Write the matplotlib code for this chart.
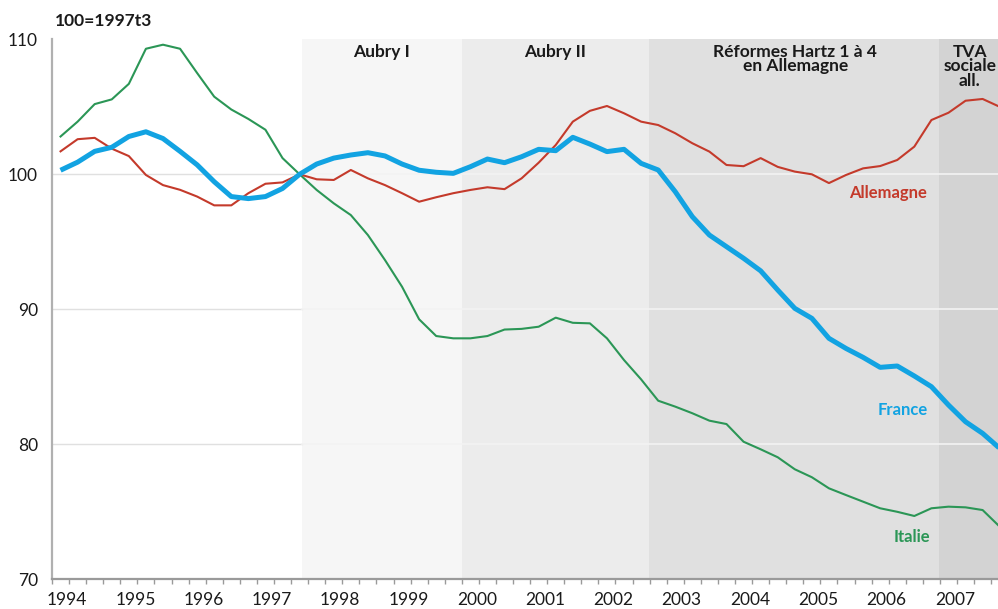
import matplotlib
matplotlib.use("Agg")
import matplotlib.pyplot as plt
import numpy as np
from matplotlib.transforms import blended_transform_factory

# ---------------- data (quarterly, 100 = 1997t3) ----------------
start_year = 1994
france = [100.3, 100.9, 101.7, 102.0, 102.8, 103.15, 102.65, 101.7, 100.7, 99.45,
          98.35, 98.2, 98.35, 98.95, 100.0, 100.76, 101.2, 101.43, 101.6, 101.36,
          100.76, 100.3, 100.15, 100.07, 100.56, 101.13, 100.86, 101.3, 101.85, 101.75,
          102.74, 102.24, 101.68, 101.85, 100.81, 100.32, 98.71, 96.86, 95.5, 94.64,
          93.78, 92.85, 91.43, 90.07, 89.33, 87.85, 87.1, 86.44, 85.7, 85.8,
          85.06, 84.27, 82.91, 81.67, 80.81, 79.7]
allemagne = [101.7, 102.6, 102.7, 101.9, 101.35, 99.95, 99.2, 98.85, 98.35, 97.7,
             97.7, 98.6, 99.3, 99.4, 100.0, 99.63, 99.58, 100.32, 99.7, 99.2,
             98.6, 97.97, 98.3, 98.6, 98.84, 99.04, 98.9, 99.7, 100.86, 102.17,
             103.9, 104.7, 105.06, 104.52, 103.9, 103.65, 103.04, 102.3, 101.68, 100.69,
             100.6, 101.2, 100.55, 100.2, 100.0, 99.35, 99.95, 100.44, 100.61, 101.06,
             102.05, 104.02, 104.56, 105.45, 105.58, 105.0]
italie = [102.8, 103.9, 105.2, 105.55, 106.7, 109.3, 109.6, 109.3, 107.5, 105.75,
          104.8, 104.1, 103.3, 101.2, 100.0, 98.84, 97.85, 96.98, 95.5, 93.65,
          91.67, 89.26, 88.02, 87.85, 87.85, 88.02, 88.5, 88.55, 88.71, 89.38,
          89.0, 88.96, 87.85, 86.24, 84.81, 83.23, 82.79, 82.3, 81.75, 81.5,
          80.19, 79.63, 79.04, 78.15, 77.56, 76.74, 76.24, 75.75, 75.26, 75.0,
          74.69, 75.26, 75.38, 75.33, 75.13, 73.9]
years = list(range(1994, 2008))
y_ticks = [70, 80, 90, 100, 110]
periods = ["Aubry I", "Aubry II", "Réformes Hartz 1 à 4\nen Allemagne", "TVA\nsociale\nall."]
period_starts = [1997.66, 2000.0, 2002.74, 2006.98]
period_ends = [2000.0, 2002.74, 2006.98, 2008.5]
series_names = ["France", "Allemagne", "Italie"]

# ---------------- style ----------------
plt.rcParams['font.family'] = ['Lato', 'DejaVu Sans']
c_fr, c_de, c_it = '#12a3e2', '#c43a2b', '#2b9656'
period_colors = ['#f6f6f6', '#ececec', '#e0e0e0', '#d3d3d3']

W, H = 998, 609
fig = plt.figure(figsize=(W / 100, H / 100), dpi=100)
x0_px, x1_px = 52, 999.7
ytop_px, ybot_px = 39.3, 579.3
ax = fig.add_axes([x0_px / W, (H - ybot_px) / H, (x1_px - x0_px) / W, (ybot_px - ytop_px) / H])

n = len(france)
t = start_year + (np.arange(n) + 0.5) / 4.0
xmin, xmax = 1994.0, 2007.875
ax.set_xlim(xmin, xmax)
ax.set_ylim(70, 110)

# shaded periods
for s, e, c in zip(period_starts, period_ends, period_colors):
    ax.axvspan(s, e, color=c, lw=0, zorder=0)

# gridlines
for g in [80, 90, 100]:
    ax.plot([xmin, period_starts[0]], [g, g], color='#e0e0e0', lw=1.0, zorder=1)
    ax.plot([period_starts[0], xmax], [g, g], color='#f3f3f3', lw=1.2, zorder=1)

# series
ax.plot(t, italie, color=c_it, lw=1.5, zorder=3, solid_joinstyle='round')
ax.plot(t, allemagne, color=c_de, lw=1.5, zorder=3, solid_joinstyle='round')
ax.plot(t, france, color=c_fr, lw=3.6, zorder=4, solid_joinstyle='round', solid_capstyle='butt')

# series labels
ax.text(2006.24, 98.6, series_names[1], color=c_de, fontsize=12, fontweight='bold', ha='center', va='center')
ax.text(2006.46, 82.55, series_names[0], color=c_fr, fontsize=12, fontweight='bold', ha='center', va='center')
ax.text(2006.59, 73.1, series_names[2], color=c_it, fontsize=12, fontweight='bold', ha='center', va='center')

# period labels
label_x = [1998.82, 2001.36, 2004.88, 2007.44]
for lx, lab in zip(label_x, periods):
    ax.text(lx, 109.65, lab, fontsize=12.5, fontweight='bold', ha='center', va='top',
            color='#1a1a1a', linespacing=0.88, clip_on=False)

# spines
for sp in ['top', 'right']:
    ax.spines[sp].set_visible(False)
ax.spines['left'].set_color('#b0b0b0')
ax.spines['left'].set_linewidth(1.6)
ax.spines['bottom'].set_color('#9a9a9a')
ax.spines['bottom'].set_linewidth(1.6)

# y ticks
ax.set_yticks(y_ticks)
ax.set_yticklabels([str(v) for v in y_ticks], fontsize=12.5, color='#1a1a1a')
ax.tick_params(axis='y', length=0, pad=10)

# x ticks: quarter ticks, labels placed via text
q = np.arange(xmin, xmax + 1e-6, 0.25)
ax.set_xticks(q)
ax.set_xticklabels([])
ax.tick_params(axis='x', length=3.5, width=1.0, color='#9a9a9a', direction='out')
trans = blended_transform_factory(ax.transData, ax.transAxes)
for yv in years:
    ax.text(yv + 0.22, -(600 - ybot_px) / (ybot_px - ytop_px), str(yv), transform=trans,
            fontsize=12.5, ha='center', va='center', color='#1a1a1a', clip_on=False)

fig.text(55 / W, 1 - 21 / H, "100=1997t3", fontsize=12.5, fontweight='bold', ha='left', va='center', color='#1a1a1a')

fig.savefig("out.png", dpi=100)
